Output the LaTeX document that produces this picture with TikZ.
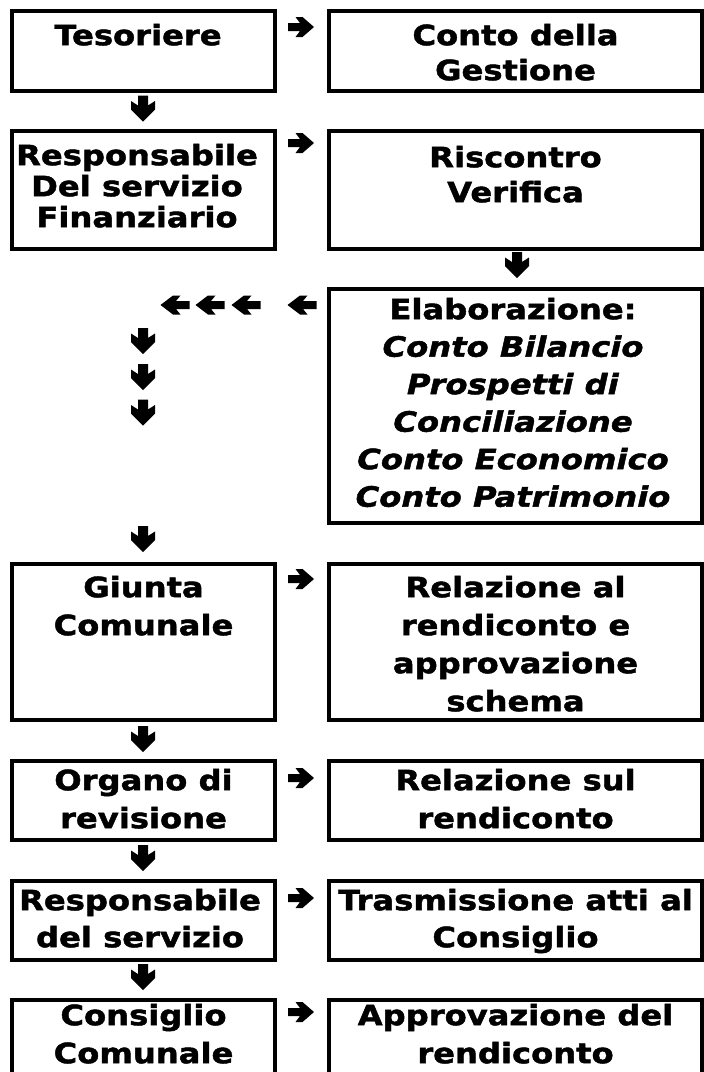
\documentclass[tikz,border=0pt]{standalone}
\usepackage{fontspec}
\setmainfont{DejaVu Sans}[FakeStretch=1.15, BoldFeatures={FakeBold=1.6}, BoldItalicFeatures={FakeBold=1.6}]
\begin{document}
\begin{tikzpicture}[x=1pt,y=-1pt,
  lbox/.style={draw, line width=3.2pt, inner sep=0pt, minimum width=263pt},
  rbox/.style={draw, line width=3.2pt, inner sep=0pt, minimum width=373pt},
  txt/.style={inner sep=0pt, anchor=north, align=center, font=\fontsize{28}{#1}\selectfont\bfseries},
  txt/.default=38,
  rarr/.pic={\fill (-13,-4) -- (-1,-4) -- (-5.5,-10) -- (1.5,-10) -- (13,0) -- (1.5,10) -- (-5.5,10) -- (-1,4) -- (-13,4) -- cycle;},
  darr/.pic={\fill (-5,-13) -- (5,-13) -- (5,-3) -- (12,-7.5) -- (12,1) -- (0,13) -- (-12,1) -- (-12,-7.5) -- (-5,-3) -- cycle;},
  larr/.pic={\fill (14.5,-4) -- (1,-4) -- (5.5,-9.5) -- (-2,-9.5) -- (-14.5,0) -- (-2,9.5) -- (5.5,9.5) -- (1,4) -- (14.5,4) -- cycle;}
]
\useasboundingbox (0,0) rectangle (704,1072);
\clip (0,0) rectangle (704,1072);
\def\st{\rule{0pt}{22pt}}
% boxes
\node[lbox, minimum height=80pt]  (tes)    at (143.5,51) {};
\node[rbox, minimum height=80pt]  (conto)  at (515.5,51) {};
\node[lbox, minimum height=118pt] (resp1)  at (143.5,190) {};
\node[rbox, minimum height=118pt] (risc)   at (515.5,190) {};
\node[rbox, minimum height=234pt] (elab)   at (515.5,406) {};
\node[lbox, minimum height=156pt] (giunta) at (143.5,642) {};
\node[rbox, minimum height=156pt] (relaz)  at (515.5,642) {};
\node[lbox, minimum height=79pt]  (organo) at (143.5,800.5) {};
\node[rbox, minimum height=79pt]  (relsul) at (515.5,800.5) {};
\node[lbox, minimum height=79pt]  (resp2)  at (143.5,920.5) {};
\node[rbox, minimum height=79pt]  (trasm)  at (515.5,920.5) {};
\node[lbox, minimum height=100pt] (cons)   at (143.5,1050) {};
\node[rbox, minimum height=100pt] (appr)   at (515.5,1050) {};
% texts
\node[txt=35] (tTes)    at (138,23)  {\st Tesoriere};
\node[txt=35] (tConto)  at (515.5,23)  {\st Conto della\\Gestione};
\node[txt=31] (tResp1)  at (137,143) {\st Responsabile\\Del servizio\\Finanziario};
\node[txt=35] (tRisc)   at (515.5,145) {\st Riscontro\\Verifica};
\node[txt=37.5] (tElab) at (513,297) {\st Elaborazione:\\\textit{Conto Bilancio}\\\textit{Prospetti di}\\\textit{Conciliazione}\\\textit{Conto Economico}\\\textit{Conto Patrimonio}};
\node[txt] (tGiunta)    at (143.5,575) {\st Giunta\\Comunale};
\node[txt] (tRelaz)     at (515.5,575) {\st Relazione al\\rendiconto e\\approvazione\\schema};
\node[txt] (tOrgano)    at (143.5,768) {\st Organo di\\revisione};
\node[txt] (tRelsul)    at (515.5,768) {\st Relazione sul\\rendiconto};
\node[txt=37] (tResp2)  at (140,888) {\st Responsabile\\del servizio};
\node[txt=37] (tTrasm)  at (515.5,888) {\st Trasmissione atti al\\Consiglio};
\node[txt] (tCons)      at (143.5,1003) {\st Consiglio\\Comunale};
\node[txt] (tAppr)      at (515.5,1003) {\st Approvazione del\\rendiconto};
% right arrows
\pic (ra1) at (301,27)   {rarr};
\pic (ra2) at (301,143)  {rarr};
\pic (ra3) at (301,579)  {rarr};
\pic (ra4) at (301,778)  {rarr};
\pic (ra5) at (301,898)  {rarr};
\pic (ra6) at (301,1012) {rarr};
% down arrows
\pic (da1) at (143,108.5) {darr};
\pic (da2) at (517,265)   {darr};
\pic (da3) at (143,341)   {darr};
\pic (da4) at (143,377)   {darr};
\pic (da5) at (143,412.5) {darr};
\pic (da6) at (143,539)   {darr};
\pic (da7) at (143,739)   {darr};
\pic (da8) at (143,858)   {darr};
\pic (da9) at (143,977)   {darr};
% left arrows
\pic (la1) at (175,305)   {larr};
\pic (la2) at (210,305)   {larr};
\pic (la3) at (246,305)   {larr};
\pic (la4) at (302,305)   {larr};
\end{tikzpicture}
\end{document}
